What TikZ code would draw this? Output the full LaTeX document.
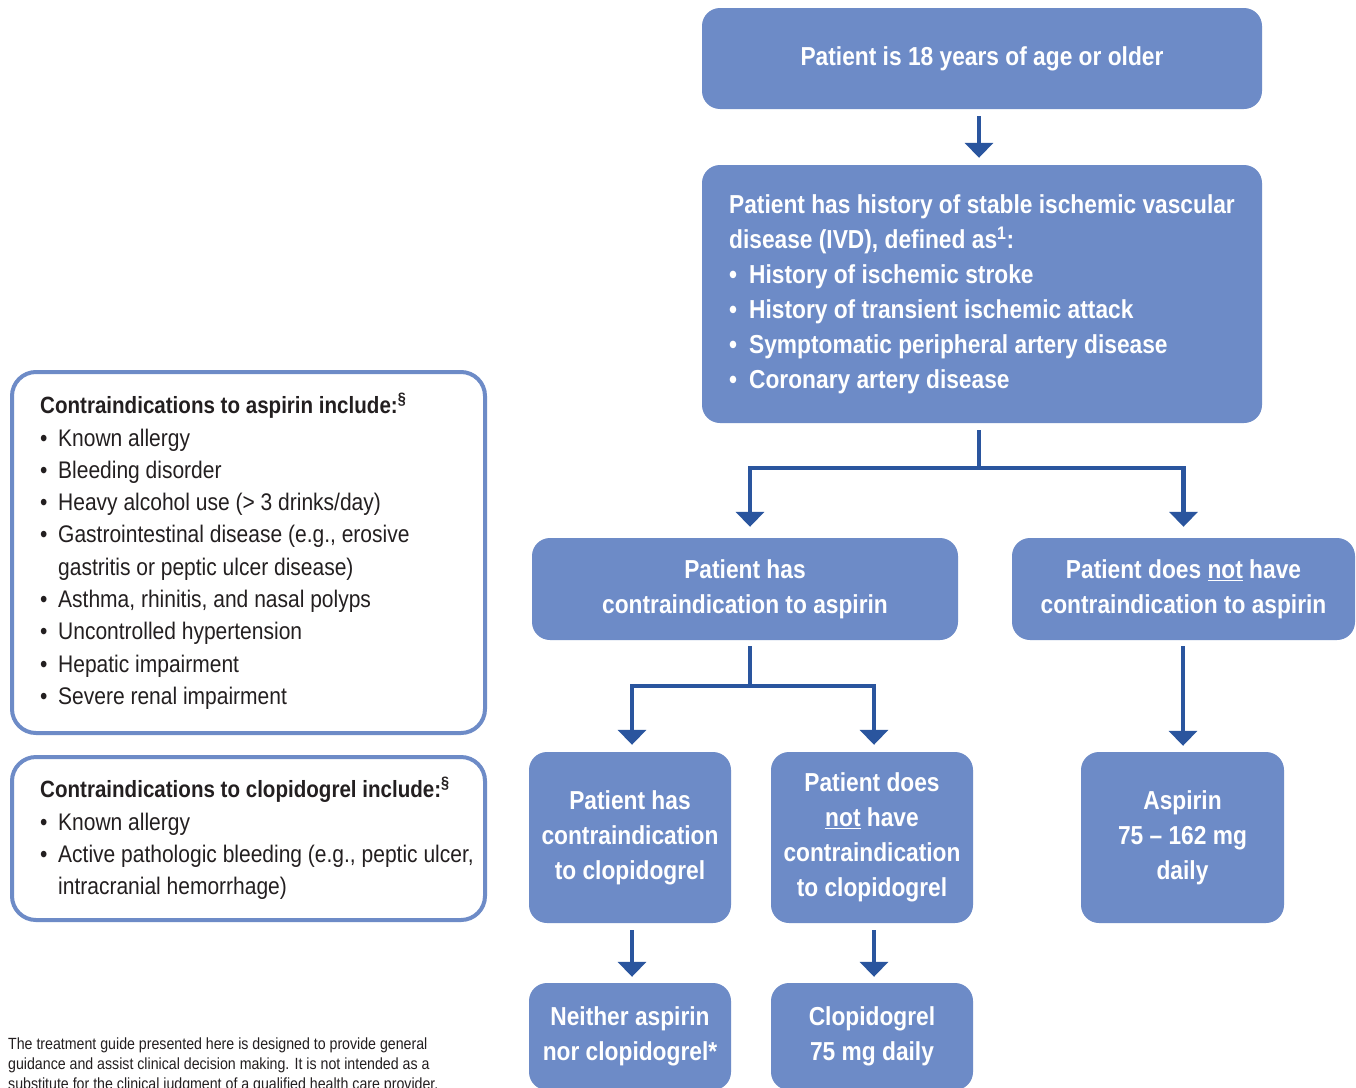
\documentclass[tikz,border=0pt]{standalone}
\usepackage{fontspec}
\setmainfont{Liberation Sans}[FakeStretch=0.875]
\usetikzlibrary{arrows.meta,calc}
\definecolor{boxblue}{HTML}{6D8BC7}
\definecolor{arrblue}{HTML}{2A559E}
\definecolor{ink}{HTML}{231F20}
\newcommand\mybul[1]{\makebox[#1][l]{\textbullet}}
\begin{document}
\begin{tikzpicture}[x=1pt,y=-1pt,
  bluebox/.style={fill=boxblue, rounded corners=18pt, text=white,
    font=\bfseries\fontsize{26}{35}\selectfont, align=center, inner sep=0pt},
  infobox/.style={draw=boxblue, line width=4pt, rounded corners=24pt, fill=white, inner sep=0pt},
  infotext/.style={text=ink, font=\fontsize{24}{32.3}\selectfont, align=left, inner sep=0pt, anchor=north west},
  foot/.style={text=ink, font=\fontsize{16.2}{20}\selectfont, align=left, inner sep=0pt, anchor=north west},
  conn/.style={draw=arrblue, line width=4.5pt, -{Triangle[width=28pt,length=15pt]}},
]
\useasboundingbox (0,0) rectangle (1356,1087);
\clip (0,0) rectangle (1356,1087);
\fill[white] (0,0) rectangle (1356,1087);

% flow boxes
\node[bluebox, minimum width=560pt, minimum height=101pt] (b1) at (982,58.5)
  {Patient is 18 years of age or older};
\node[bluebox, minimum width=560pt, minimum height=258pt, align=left] (b2) at (982,294)
  {Patient has history of stable ischemic vascular\\
   disease (IVD), defined as\textsuperscript{1}:\\
   \mybul{20pt}History of ischemic stroke\\
   \mybul{20pt}History of transient ischemic attack\\
   \mybul{20pt}Symptomatic peripheral artery disease\\
   \mybul{20pt}Coronary artery disease};
\node[bluebox, minimum width=426pt, minimum height=102pt] (b3) at (745,589)
  {Patient has\\contraindication to aspirin};
\node[bluebox, minimum width=343pt, minimum height=102pt] (b4) at (1183.5,589)
  {Patient does \underline{not} have\\contraindication to aspirin};
\node[bluebox, minimum width=202pt, minimum height=171pt] (b5) at (630,837.5)
  {Patient has\\contraindication\\to clopidogrel};
\node[bluebox, minimum width=202pt, minimum height=171pt] (b6) at (872,837.5)
  {Patient does\\\underline{not} have\\contraindication\\to clopidogrel};
\node[bluebox, minimum width=203pt, minimum height=171pt] (b7) at (1182.5,837.5)
  {Aspirin\\75 \textendash{} 162 mg\\daily};
\node[bluebox, minimum width=202pt, minimum height=107pt] (b8) at (630,1036.5)
  {Neither aspirin\\nor clopidogrel*};
\node[bluebox, minimum width=202pt, minimum height=107pt] (b9) at (872,1036.5)
  {Clopidogrel\\75 mg daily};

% connectors
\draw[conn, shorten <=7pt, shorten >=7pt] ([xshift=-3pt]b1.south) -- ([xshift=-3pt]b2.north);
\draw[conn, shorten <=7pt, shorten >=11pt] ([xshift=-3pt]b2.south) -- ++(0,45) -| ([xshift=5pt]b3.north);
\draw[conn, shorten <=7pt, shorten >=11pt] ([xshift=-3pt]b2.south) -- ++(0,45) -| (b4.north);
\draw[conn, shorten <=6pt, shorten >=7pt] ([xshift=5pt]b3.south) -- ++(0,46) -| ([xshift=2pt]b5.north);
\draw[conn, shorten <=6pt, shorten >=7pt] ([xshift=5pt]b3.south) -- ++(0,46) -| ([xshift=2pt]b6.north);
\draw[conn, shorten <=6pt, shorten >=6pt] ([xshift=-0.5pt]b4.south) -- ([xshift=0.5pt]b7.north);
\draw[conn, shorten <=7pt, shorten >=6pt] ([xshift=2pt]b5.south) -- ([xshift=2pt]b8.north);
\draw[conn, shorten <=7pt, shorten >=6pt] ([xshift=2pt]b6.south) -- ([xshift=2pt]b9.north);

% contraindication boxes
\node[infobox, minimum width=473pt, minimum height=361pt] (ca) at (248.5,552.5) {};
\node[infotext] (cat) at (40,393)
  {{\bfseries\fontsize{23.5}{32.3}\selectfont Contraindications to aspirin include:\textsuperscript{\S}}\\
   \mybul{18pt}Known allergy\\
   \mybul{18pt}Bleeding disorder\\
   \mybul{18pt}Heavy alcohol use (> 3 drinks/day)\\
   \mybul{18pt}Gastrointestinal disease (e.g., erosive\\
   \hspace*{18pt}gastritis or peptic ulcer disease)\\
   \mybul{18pt}Asthma, rhinitis, and nasal polyps\\
   \mybul{18pt}Uncontrolled hypertension\\
   \mybul{18pt}Hepatic impairment\\
   \mybul{18pt}Severe renal impairment};
\node[infobox, minimum width=473pt, minimum height=163pt] (cc) at (248.5,838.5) {};
\node[infotext] (cct) at (40,777)
  {{\bfseries\fontsize{23.5}{32.3}\selectfont Contraindications to clopidogrel include:\textsuperscript{\S}}\\
   \mybul{18pt}Known allergy\\
   \mybul{18pt}Active pathologic bleeding (e.g., peptic ulcer,\\
   \hspace*{18pt}intracranial hemorrhage)};

% footnote
\node[foot] (fn) at (8,1038)
  {The treatment guide presented here is designed to provide general\\
   guidance and assist clinical decision making. It is not intended as a\\
   substitute for the clinical judgment of a qualified health care provider.};
\end{tikzpicture}
\end{document}
